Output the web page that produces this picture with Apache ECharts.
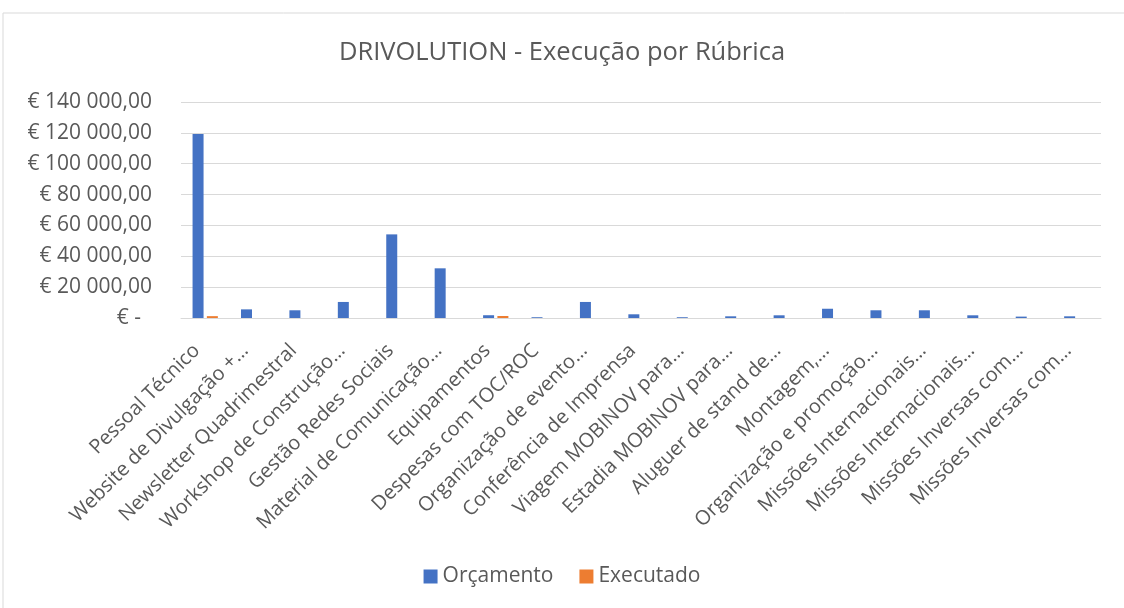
<!DOCTYPE html>
<html>
<head>
<meta charset="utf-8">
<script src="https://cdn.jsdelivr.net/npm/echarts@6/dist/echarts.min.js"></script>
<style>
  html, body { margin: 0; padding: 0; background: #fff; }
  #chart { width: 1124px; height: 608px; }
</style>
</head>
<body>
<div id="chart"></div>
<script>
var categories = [
  'Pessoal Técnico',
  'Website de Divulgação +…',
  'Newsletter Quadrimestral',
  'Workshop de Construção…',
  'Gestão Redes Sociais',
  'Material de Comunicação…',
  'Equipamentos',
  'Despesas com TOC/ROC',
  'Organização de evento…',
  'Conferência de Imprensa',
  'Viagem MOBINOV para…',
  'Estadia MOBINOV para…',
  'Aluguer de stand de…',
  'Montagem,…',
  'Organização e promoção…',
  'Missões Internacionais…',
  'Missões Internacionais…',
  'Missões Inversas com…',
  'Missões Inversas com…'
];
var orcamento = [119200, 5600, 5000, 10400, 54200, 32200, 1800, 500, 10400, 2400,
                 500, 1100, 1750, 6000, 5000, 5000, 1750, 900, 1100];
var executado = [1200, 0, 0, 0, 0, 0, 1300, 0, 0, 0,
                 0, 0, 0, 0, 0, 0, 0, 0, 0];
var yTicks = [0, 20000, 40000, 60000, 80000, 100000, 120000, 140000];

var font = '"Open Sans", "DejaVu Sans", sans-serif';
var textColor = '#595959';

function euro(v) {
  if (v === 0) return '€ -  ';
  var s = Math.round(v).toString().replace(/\B(?=(\d{3})+(?!\d))/g, ' ');
  return '€ ' + s + ',00';
}

var chartDom = document.getElementById('chart');
var myChart = echarts.init(chartDom);
var option;

option = {
  backgroundColor: '#fff',
  animation: false,
  graphic: [{
    type: 'rect',
    shape: { x: 3, y: 13, width: 1300, height: 800 },
    style: { fill: 'none', stroke: '#d9d9d9', lineWidth: 1 },
    silent: true
  }],
  title: {
    text: 'DRIVOLUTION - Execução por Rúbrica',
    left: 'center',
    top: 35,
    textStyle: { fontFamily: font, fontSize: 25.5, fontWeight: 'normal', color: textColor }
  },
  legend: {
    bottom: 16,
    left: 'center',
    itemWidth: 14,
    itemHeight: 14,
    itemGap: 26,
    icon: 'rect',
    textStyle: { fontFamily: font, fontSize: 21, color: textColor }
  },
  grid: {
    left: 181,
    right: 23,
    top: 102,
    bottom: 290
  },
  xAxis: {
    type: 'category',
    data: categories,
    axisLine: { lineStyle: { color: '#d9d9d9', width: 1 } },
    axisTick: { show: false },
    axisLabel: {
      interval: 0,
      rotate: 45,
      margin: 21,
      padding: [0, 12, 0, 0],
      fontFamily: font,
      fontSize: 20,
      color: textColor
    }
  },
  yAxis: {
    type: 'value',
    min: yTicks[0],
    max: yTicks[yTicks.length - 1],
    interval: yTicks[1] - yTicks[0],
    axisLine: { show: false },
    axisTick: { show: false },
    splitLine: { lineStyle: { color: '#d9d9d9', width: 1 } },
    axisLabel: {
      margin: 29,
      fontFamily: font,
      fontSize: 21,
      color: textColor,
      formatter: euro
    }
  },
  series: [
    {
      name: 'Orçamento',
      type: 'bar',
      data: orcamento,
      barWidth: 11,
      barGap: '30%',
      itemStyle: { color: '#4472C4' }
    },
    {
      name: 'Executado',
      type: 'bar',
      data: executado,
      barWidth: 11,
      itemStyle: { color: '#ED7D31' }
    }
  ]
};

option && myChart.setOption(option);
</script>
</body>
</html>
